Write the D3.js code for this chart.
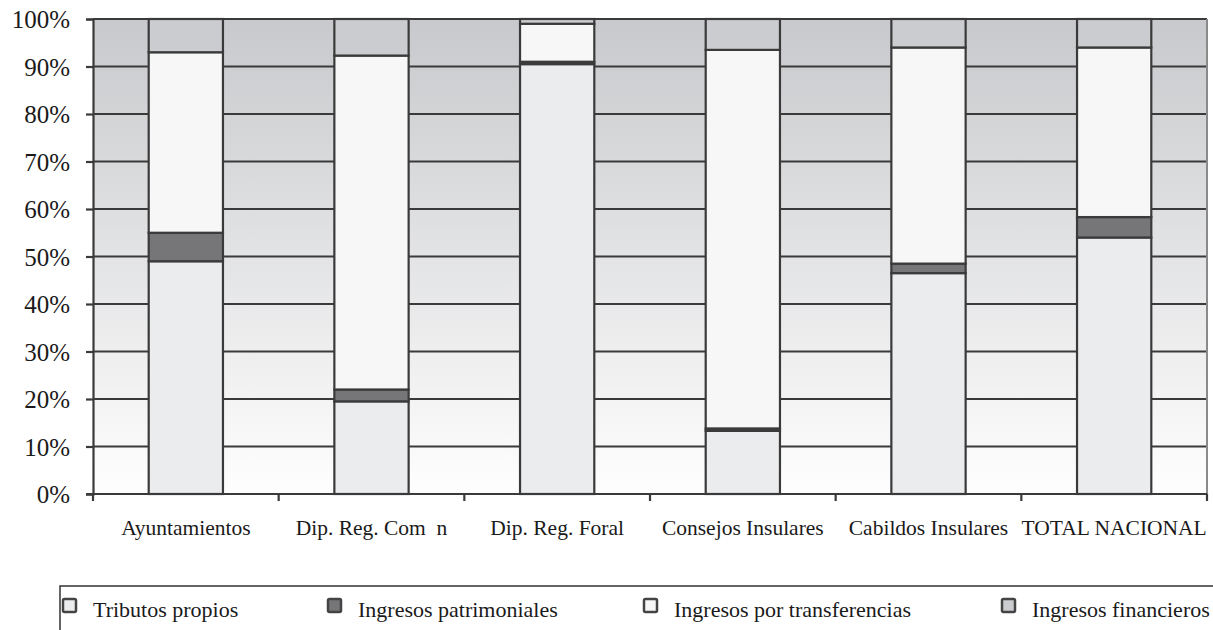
<!DOCTYPE html>
<html>
<head>
<meta charset="utf-8">
<script src="https://cdn.jsdelivr.net/npm/d3@7/dist/d3.min.js"></script>
<style>
  html, body { margin: 0; padding: 0; background: #ffffff; }
  svg { display: block; }
  text { font-family: "Liberation Serif", "Times New Roman", serif; fill: #1a1a1a; }
</style>
</head>
<body>
<svg id="chart" width="1213" height="630"></svg>
<script>
// Revenue structure by type of local entity (share of total, %)
const categories = ["Ayuntamientos", "Dip. Reg. Com\u00a0\u00a0n", "Dip. Reg. Foral",
                    "Consejos Insulares", "Cabildos Insulares", "TOTAL NACIONAL"];
const seriesNames = ["Tributos propios", "Ingresos patrimoniales",
                     "Ingresos por transferencias", "Ingresos financieros"];
const tributos       = [49.0, 19.5, 90.5, 13.3, 46.5, 54.0];
const patrimoniales  = [ 6.0,  2.5,  0.5,  0.5,  2.0,  4.3];
const transferencias = [38.0, 70.3,  8.0, 79.7, 45.5, 35.7];
const financieros    = [ 7.0,  7.7,  1.0,  6.5,  6.0,  6.0];
const yTicks = [0, 0.1, 0.2, 0.3, 0.4, 0.5, 0.6, 0.7, 0.8, 0.9, 1.0];

const fills = ["#ebecee", "#767678", "#f7f7f7", "#cbcccf"];
const edge = "#3a3a3a";

const svg = d3.select("#chart");
const margin = { left: 93, right: 6, top: 19, bottom: 136 };
const W = 1213, H = 630;
const x0 = margin.left, x1 = W - margin.right;
const y0 = H - margin.bottom, y1 = margin.top;

const rows = categories.map((c, i) => ({
  cat: c,
  [seriesNames[0]]: tributos[i],
  [seriesNames[1]]: patrimoniales[i],
  [seriesNames[2]]: transferencias[i],
  [seriesNames[3]]: financieros[i]
}));
const stacked = d3.stack().keys(seriesNames).offset(d3.stackOffsetExpand)(rows);

const x = d3.scaleBand().domain(categories).range([x0, x1])
  .paddingInner(0.6).paddingOuter(0.3);
const y = d3.scaleLinear().domain([0, 1]).range([y0, y1]);

// plot-area background: vertical grey-to-white gradient
const defs = svg.append("defs");
const grad = defs.append("linearGradient").attr("id", "bg")
  .attr("x1", 0).attr("y1", 0).attr("x2", 0).attr("y2", 1);
grad.append("stop").attr("offset", "0%").attr("stop-color", "#c8c9cc");
grad.append("stop").attr("offset", "100%").attr("stop-color", "#fefefe");
svg.append("rect").attr("x", x0).attr("y", y1)
  .attr("width", x1 - x0).attr("height", y0 - y1).attr("fill", "url(#bg)");

// horizontal gridlines
svg.append("g").selectAll("line").data(yTicks.filter(t => t > 0)).join("line")
  .attr("x1", x0).attr("x2", x1)
  .attr("y1", d => y(d)).attr("y2", d => y(d))
  .attr("stroke", edge).attr("stroke-width", 2.2);

// right border of the plot area
svg.append("line").attr("x1", x1).attr("x2", x1).attr("y1", y1).attr("y2", y0)
  .attr("stroke", "#8a8a8a").attr("stroke-width", 2);

// stacked bars
svg.append("g").selectAll("g").data(stacked).join("g")
  .attr("fill", (d, i) => fills[i])
  .selectAll("rect").data(d => d).join("rect")
  .attr("x", d => x(d.data.cat))
  .attr("width", x.bandwidth())
  .attr("y", d => y(d[1]))
  .attr("height", d => y(d[0]) - y(d[1]))
  .attr("stroke", edge).attr("stroke-width", 2.2);

// y axis
const yAxis = d3.axisLeft(y).tickValues(yTicks)
  .tickFormat(d => Math.round(d * 100) + "%").tickSize(7).tickPadding(16);
const gy = svg.append("g").attr("transform", `translate(${x0},0)`).call(yAxis);
gy.select(".domain").attr("stroke", edge).attr("stroke-width", 2.2);
gy.selectAll(".tick line").attr("stroke", edge).attr("stroke-width", 2.2);
gy.selectAll(".tick text").attr("font-size", 25).attr("fill", "#1a1a1a")
  .attr("dy", "0.34em");

// x axis baseline with ticks between categories
const boundaries = d3.range(categories.length + 1).map(i => x0 + i * (x1 - x0) / categories.length);
svg.append("line").attr("x1", x0 - 7).attr("x2", x1).attr("y1", y0).attr("y2", y0)
  .attr("stroke", edge).attr("stroke-width", 2.2);
svg.append("g").selectAll("line").data(boundaries).join("line")
  .attr("x1", d => d).attr("x2", d => d)
  .attr("y1", y0).attr("y2", y0 + 7)
  .attr("stroke", edge).attr("stroke-width", 2.2);
svg.append("g").selectAll("text").data(categories).join("text")
  .attr("x", d => x(d) + x.bandwidth() / 2)
  .attr("y", 535)
  .attr("text-anchor", "middle")
  .attr("font-size", 21.5)
  .text(d => d);

// legend
const legendTop = 586;
svg.append("path")
  .attr("d", `M60,${H} V${legendTop} H${W}`)
  .attr("fill", "none").attr("stroke", "#333").attr("stroke-width", 1.5);
const legendX = [93, 358, 674, 1032];
const lg = svg.append("g").selectAll("g").data(seriesNames).join("g");
lg.append("rect")
  .attr("x", (d, i) => legendX[i] - 30).attr("y", 599)
  .attr("width", 13).attr("height", 13).attr("rx", 1.5)
  .attr("fill", (d, i) => fills[i]).attr("stroke", "#444").attr("stroke-width", 2.5);
lg.append("text")
  .attr("x", (d, i) => legendX[i]).attr("y", 617)
  .attr("font-size", 22)
  .text(d => d);
</script>
</body>
</html>
